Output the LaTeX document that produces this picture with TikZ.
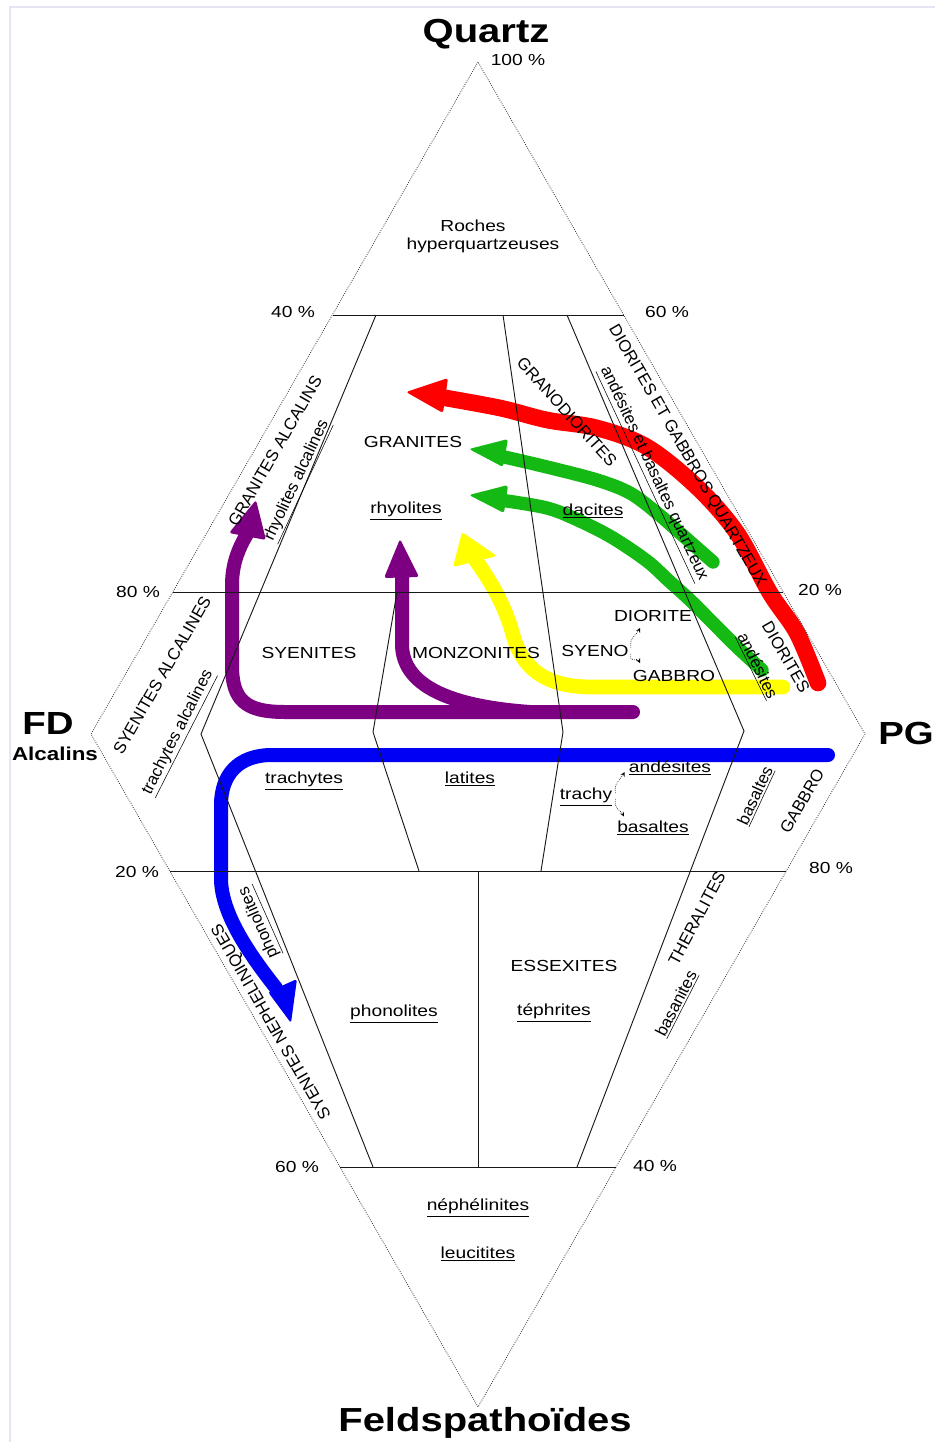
\documentclass[tikz,border=0pt]{standalone}
\usepackage{fontspec}
\setmainfont{Liberation Sans}[FakeStretch=1.2]
\newfontfamily\rotfont{Liberation Sans}
\usetikzlibrary{calc}
\definecolor{hlred}{RGB}{255,0,0}
\definecolor{hlgreen}{RGB}{20,185,20}
\definecolor{hlyellow}{RGB}{255,255,0}
\definecolor{hlpurple}{RGB}{125,0,130}
\definecolor{hlblue}{RGB}{0,0,245}
\definecolor{framec}{RGB}{228,228,242}
\begin{document}
\begin{tikzpicture}[x=0.75pt,y=-0.75pt,
  lab/.style={font=\fontsize{12}{14}\selectfont, inner sep=0pt},
  rlab/.style={font=\rotfont\fontsize{12.5}{14}\selectfont, inner sep=0pt},
  ttl/.style={font=\fontsize{25}{28}\selectfont\bfseries, inner sep=0pt},
  edgeline/.style={densely dotted, line width=0.6pt, black!80},
  divline/.style={line width=0.7pt, black!90},
  hl/.style={line cap=round, line join=round},
  sarrow/.style={densely dotted, line width=0.5pt, -{stealth}},
]
\useasboundingbox (0,0) rectangle (935,1442);
\fill[white] (0,0) rectangle (935,1442);
\draw[framec, line width=0.8pt] (10,1442) -- (10,7) -- (935,7);

% ---------- coloured arrows ----------
% red
\draw[hl, hlred, line width=12.5pt] plot[smooth, tension=0.55] coordinates {(818,683) (797,633) (770,593) (737,533) (697,487) (647,447) (597,428) (547,420) (500,408) (440,397)};
\fill[hlred, rounded corners=2pt] (406,392) -- (448,378) -- (443,413) -- cycle;
% green 1
\draw[hl, hlgreen, line width=10pt] plot[smooth, tension=0.55] coordinates {(713,562) (680,533) (657,513) (630,493) (597,480) (547,467) (500,456)};
\fill[hlgreen, rounded corners=2pt] (469,449) -- (508,439) -- (503,467) -- cycle;
% green 2
\draw[hl, hlgreen, line width=10pt] plot[smooth, tension=0.55] coordinates {(762,670) (737,647) (713,623) (690,600) (668,580) (647,561) (613,538) (580,521) (547,508) (500,500)};
\fill[hlgreen, rounded corners=2pt] (469,495) -- (508,485) -- (504,513) -- cycle;
% yellow
\draw[hl, hlyellow, line width=11pt] (783,687) -- (592,687) .. controls (545,687) and (522,668) .. (513,635) .. controls (505,605) and (490,580) .. (474,558);
\fill[hlyellow, rounded corners=2pt] (462,532) -- (497,556) -- (453,567) -- cycle;
% purple
\draw[hl, hlpurple, line width=10.5pt] (633,712) -- (285,712) .. controls (245,712) and (232,700) .. (232,665) -- (232,585) .. controls (232,562) and (240,546) .. (247,534);
\fill[hlpurple, rounded corners=2pt] (256,500) -- (266,540) -- (229,533) -- cycle;
\draw[hl, hlpurple, line width=10.5pt] (530,712) .. controls (460,707) and (403,690) .. (402,645) -- (402,574);
\fill[hlpurple, rounded corners=2pt] (400,539) -- (419,577) -- (384,578) -- cycle;
% blue
\draw[hl, hlblue, line width=10.5pt] (828,755) -- (272,755) .. controls (238,755) and (221,775) .. (221,805) -- (221,880) .. controls (222,915) and (250,955) .. (276,988);
\fill[hlblue, rounded corners=2pt] (268,992) -- (297,979) -- (291,1023) -- cycle;

% ---------- diagram lines ----------
\coordinate (Q) at (478,62);
\coordinate (A) at (91,734);
\coordinate (F) at (478,1407);
\coordinate (P) at (865,734);
\draw[edgeline] (Q) -- (A) -- (F) -- (P) -- cycle;

\draw[divline] (332.5,315) -- (623.5,315);
\draw[divline] (173,592) -- (783,592);
\draw[divline] (170,871) -- (786,871);
\draw[divline] (340,1167) -- (616,1167);

\draw[divline] (376,315) -- (201,734) -- (373,1167);
\draw[divline] (503,315) -- (563,732) -- (541,871);
\draw[divline] (567,315) -- (744,731) -- (577,1167);
\draw[divline] (397,592) -- (373,732) -- (419,871);
\draw[divline] (478,871) -- (478,1167);

% ---------- titles ----------
\node[ttl] (quartz) at (486,34) {Quartz};
\node[ttl] (feld) at (485,1423) {Feldspatho\"ides};
\node[ttl, font=\fontsize{24}{28}\selectfont\bfseries] (fd) at (48,723) {FD};
\node[inner sep=0pt, font=\fontsize{14}{16}\selectfont\bfseries] (alc) at (55,754) {Alcalins};
\node[ttl, font=\fontsize{24}{28}\selectfont\bfseries] (pg) at (906,733) {PG};

% ---------- percentages ----------
\node[lab] (p100) at (518,60) {100 \%};
\node[lab] (p40a) at (293,312) {40 \%};
\node[lab] (p60a) at (667,312) {60 \%};
\node[lab] (p80a) at (138,592) {80 \%};
\node[lab] (p20a) at (820,590) {20 \%};
\node[lab] (p20b) at (137,872) {20 \%};
\node[lab] (p80b) at (831,868) {80 \%};
\node[lab] (p60b) at (297,1167) {60 \%};
\node[lab] (p40b) at (655,1166) {40 \%};

% ---------- horizontal labels ----------
\node[lab] (roches) at (473,226) {Roches};
\node[lab] (hyper) at (483,245) {hyperquartzeuses};
\node[lab] (granites) at (413,442) {GRANITES};
\node[lab] (rhyo) at (406,511) {\underline{rhyolites}};
\node[lab] (dacites) at (593,511) {\underline{dacites}};
\node[lab] (syenites) at (309,653) {SYENITES};
\node[lab] (monzo) at (476,653) {MONZONITES};
\node[lab] (syeno) at (595,651) {SYENO};
\node[lab] (diorite) at (653,616) {DIORITE};
\node[lab] (gabbro) at (674,676) {GABBRO};
\node[lab] (trachytes) at (304,781) {\underline{trachytes}};
\node[lab] (latites) at (470,779) {\underline{latites}};
\node[lab] (trachy) at (586,797) {\underline{trachy}};
\node[lab] (andes) at (670,768) {\underline{and\'esites}};
\node[lab] (basal) at (653,828) {\underline{basaltes}};
\node[lab] (phono) at (394,1014) {\underline{phonolites}};
\node[lab] (essex) at (564,966) {ESSEXITES};
\node[lab] (tephr) at (554,1013) {\underline{t\'ephrites}};
\node[lab] (nephe) at (478,1208) {\underline{n\'eph\'elinites}};
\node[lab] (leuci) at (478,1254) {\underline{leucitites}};

% ---------- rotated labels ----------
\node[rlab, rotate=-48] (granodio) at (567,412) {GRANODIORITES};
\node[rlab, rotate=-60] (dgq) at (687,456) {DIORITES ET GABBROS QUARTZEUX};
\node[rlab, rotate=-65] (abq) at (653,474) {\underline{and\'esites et basaltes quartzeux}};
\node[rlab, rotate=-60] (diorites) at (786,657) {DIORITES};
\node[rlab, rotate=-64] (andesr) at (757,666) {\underline{and\'esites}};
\node[rlab, rotate=60] (granalc) at (275,451) {GRANITES ALCALINS};
\node[rlab, rotate=65] (rhyoalc) at (298,481) {\underline{rhyolites alcalines}};
\node[rlab, rotate=60] (syealc) at (162,675) {SYENITES ALCALINES};
\node[rlab, rotate=63] (traalc) at (179,733) {\underline{trachytes alcalines}};
\node[rlab, rotate=65] (basalr) at (756,796) {\underline{basaltes}};
\node[rlab, rotate=60] (gabbror) at (802,801) {GABBRO};
\node[rlab, rotate=120] (syneph) at (272,1021) {SYENITES NEPHELINIQUES};
\node[rlab, rotate=114] (phonor) at (260,922) {\underline{phonolites}};
\node[rlab, rotate=62] (theral) at (697,918) {THERALITES};
\node[rlab, rotate=63] (basan) at (677,1004) {\underline{basanites}};

% ---------- small dotted arrows ----------
\draw[sarrow] ($(syeno.east)+(2,-3)$) .. controls +(-2,-10) and +(-3,6) .. ($(diorite.south)+(-13,6)$);
\draw[sarrow] ($(syeno.east)+(2,3)$) .. controls +(-2,10) and +(-3,-6) .. ($(gabbro.north)+(-34,-7)$);
\draw[sarrow] ($(trachy.east)+(3,-4)$) .. controls +(-2,-10) and +(-3,6) .. ($(andes.west)+(-4,4)$);
\draw[sarrow] ($(trachy.east)+(3,2)$) .. controls +(-2,10) and +(-3,-6) .. ($(basal.north west)+(7,-4)$);
\end{tikzpicture}
\end{document}
